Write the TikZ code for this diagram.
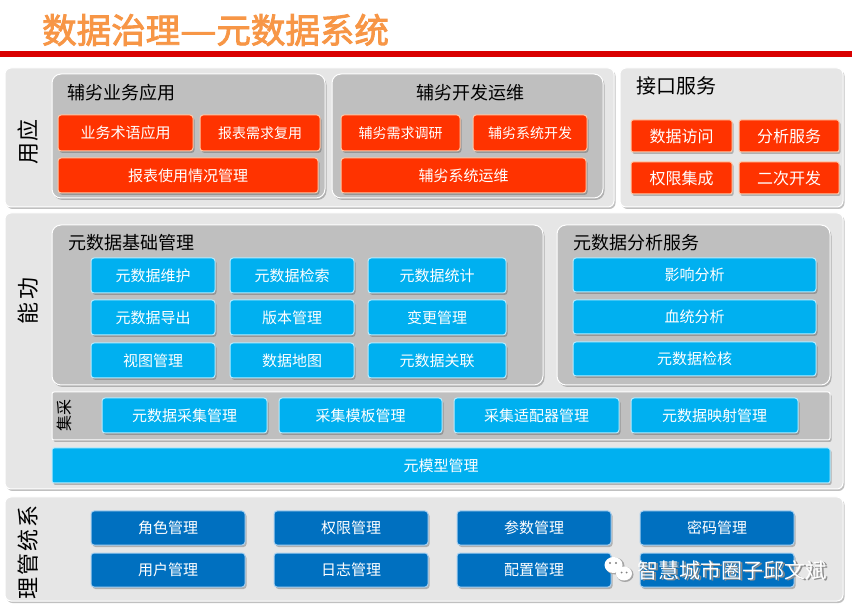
\documentclass[tikz,border=0pt]{standalone}
\usepackage{fontspec}
\newfontfamily\cjk{Noto Sans CJK SC}
\newfontfamily\cjktitle[FakeBold=2.5]{Noto Sans CJK SC}
\usetikzlibrary{shadows}
\definecolor{titleorange}{HTML}{F79646}
\definecolor{lineRed}{HTML}{D90000}
\definecolor{secgray}{HTML}{E6E6E6}
\definecolor{innergray}{HTML}{BFBFBF}
\definecolor{myred}{HTML}{FF3300}
\definecolor{rededge}{HTML}{FFC9A8}
\definecolor{lblue}{HTML}{00B0F0}
\definecolor{lblueedge}{HTML}{B8ECFF}
\definecolor{dblue}{HTML}{0070C0}
\definecolor{dblueedge}{HTML}{A8D0F0}
\tikzset{
  shad/.style={drop shadow={opacity=0.35, shadow xshift=1.5pt, shadow yshift=-2pt, fill=black!70}},
  sect/.style={fill=secgray, draw=white, line width=1pt, rounded corners=6pt, inner sep=0pt, shad},
  innerbox/.style={fill=innergray, draw=white, line width=1pt, rounded corners=9pt, inner sep=0pt, shad},
  redbox/.style={fill=myred, draw=rededge, line width=1pt, rounded corners=3pt, inner sep=0pt, text=white,
     font=\cjk\fontsize{15}{15}\selectfont, shad},
  bluebox/.style={fill=lblue, draw=lblueedge, line width=1pt, rounded corners=3pt, inner sep=0pt, text=white,
     font=\cjk\fontsize{15}{15}\selectfont, shad},
  dbox/.style={fill=dblue, draw=dblueedge, line width=1pt, rounded corners=3pt, inner sep=0pt, text=white,
     font=\cjk\fontsize{15}{15}\selectfont, shad, minimum width=154, minimum height=34},
  grouplabel/.style={font=\cjk\fontsize{18}{18}\selectfont, text=black, inner sep=0pt},
  sidelabel/.style={font=\cjk\fontsize{22}{22}\selectfont, text=black, inner sep=0pt, rotate=90},
}
\begin{document}
\begin{tikzpicture}[x=1pt,y=-1pt]
\useasboundingbox (0,0) rectangle (852,609);
\fill[white] (0,0) rectangle (852,609);
% title
\node[anchor=west, inner sep=0pt, text=titleorange, font=\cjktitle\fontsize{34.5}{34.5}\selectfont] (title) at (42,30)
  {数据治理\makebox[1.05em]{\resizebox{1.05em}{\height}{—}}元数据系统};
\fill[lineRed] (0,51.5) rectangle (852,57);

% ---------- application ----------
\node[sect, minimum width=609, minimum height=139] (app) at (309.5,137.5) {};
\node[sect, minimum width=223, minimum height=139] (iface) at (731.5,137.5) {};
\node[sidelabel] (applbl) at (28,142) {用\kern2pt 应};
\node[innerbox, minimum width=273, minimum height=124] (biz) at (188.5,136) {};
\node[innerbox, minimum width=271, minimum height=124] (dev) at (467.5,136) {};
\node[grouplabel, anchor=west] (bizlbl) at (67,93) {辅劣业务应用};
\node[grouplabel] (devlbl) at (470,93) {辅劣开发运维};
\node[grouplabel, anchor=west, font=\cjk\fontsize{20}{20}\selectfont] (ifacelbl) at (636,86) {接口服务};

\node[redbox, minimum width=135, minimum height=36] (r1) at (125.5,133) {业务术语应用};
\node[redbox, minimum width=120, minimum height=36, font=\cjk\fontsize{14}{14}\selectfont] (r2) at (260,133) {报表需求复用};
\node[redbox, minimum width=260, minimum height=35] (r3) at (188,175.5) {报表使用情况管理};
\node[redbox, minimum width=119, minimum height=36, font=\cjk\fontsize{14}{14}\selectfont] (r4) at (400.5,133) {辅劣需求调研};
\node[redbox, minimum width=114, minimum height=36, font=\cjk\fontsize{14}{14}\selectfont] (r5) at (530,133) {辅劣系统开发};
\node[redbox, minimum width=245, minimum height=35] (r6) at (463.5,175.5) {辅劣系统运维};

\node[redbox, minimum width=101, minimum height=32, rounded corners=2pt, font=\cjk\fontsize{16}{16}\selectfont] (i1) at (681.5,136) {数据访问};
\node[redbox, minimum width=100, minimum height=32, rounded corners=2pt, font=\cjk\fontsize{16}{16}\selectfont] (i2) at (789,136) {分析服务};
\node[redbox, minimum width=101, minimum height=32, rounded corners=2pt, font=\cjk\fontsize{16}{16}\selectfont] (i3) at (681.5,178) {权限集成};
\node[redbox, minimum width=100, minimum height=32, rounded corners=2pt, font=\cjk\fontsize{16}{16}\selectfont] (i4) at (789,178) {二次开发};

% ---------- function ----------
\node[sect, minimum width=838, minimum height=276] (func) at (424,351) {};
\node[sidelabel] (funclbl) at (28,301) {能\kern3pt 功};
\node[innerbox, minimum width=491, minimum height=160] (basic) at (297.5,305) {};
\node[innerbox, minimum width=273, minimum height=160] (anal) at (693.5,305) {};
\node[grouplabel, anchor=west] (basiclbl) at (68,243) {元数据基础管理};
\node[grouplabel, anchor=west] (anallbl) at (573,243) {元数据分析服务};

\node[bluebox, minimum width=124, minimum height=35] (b11) at (153,275.5) {元数据维护};
\node[bluebox, minimum width=124, minimum height=35] (b12) at (292,275.5) {元数据检索};
\node[bluebox, minimum width=138, minimum height=35] (b13) at (437,275.5) {元数据统计};
\node[bluebox, minimum width=124, minimum height=35] (b21) at (153,317.5) {元数据导出};
\node[bluebox, minimum width=124, minimum height=35] (b22) at (292,317.5) {版本管理};
\node[bluebox, minimum width=138, minimum height=35] (b23) at (437,317.5) {变更管理};
\node[bluebox, minimum width=124, minimum height=35] (b31) at (153,360.5) {视图管理};
\node[bluebox, minimum width=124, minimum height=35] (b32) at (292,360.5) {数据地图};
\node[bluebox, minimum width=138, minimum height=35] (b33) at (437,360.5) {元数据关联};

\node[bluebox, minimum width=243, minimum height=34] (a1) at (694.5,275) {影响分析};
\node[bluebox, minimum width=243, minimum height=34] (a2) at (694.5,317) {血统分析};
\node[bluebox, minimum width=243, minimum height=34] (a3) at (694.5,359) {元数据检核};

\node[fill=innergray, draw=white, line width=1pt, rounded corners=2pt, inner sep=0pt, shad,
      minimum width=778, minimum height=48] (coll) at (441,416) {};
\node[sidelabel, font=\cjk\fontsize{16}{16}\selectfont] (colllbl) at (64,416) {集采};
\node[bluebox, minimum width=165, minimum height=35] (c1) at (184.5,415.5) {元数据采集管理};
\node[bluebox, minimum width=163, minimum height=35] (c2) at (360.5,415.5) {采集模板管理};
\node[bluebox, minimum width=165, minimum height=35] (c3) at (536.5,415.5) {采集适配器管理};
\node[bluebox, minimum width=167, minimum height=35] (c4) at (714.5,415.5) {元数据映射管理};
\node[bluebox, minimum width=778, minimum height=35, rounded corners=2pt] (meta) at (441,465.5) {元模型管理};

% ---------- system ----------
\node[sect, minimum width=838, minimum height=104] (sys) at (424,549) {};
\node[sidelabel] (syslbl) at (28,552) {理\kern2pt 管\kern2pt 统\kern2pt 系};
\node[dbox] (s11) at (168,528) {角色管理};
\node[dbox] (s12) at (351,528) {权限管理};
\node[dbox] (s13) at (534,528) {参数管理};
\node[dbox] (s14) at (717,528) {密码管理};
\node[dbox] (s21) at (168,570) {用户管理};
\node[dbox] (s22) at (351,570) {日志管理};
\node[dbox] (s23) at (534,570) {配置管理};
\node[dbox] (s24) at (717,570) {};

% watermark
\fill[black!35] (615,566) ellipse (9.5 and 8.5);
\fill[white] (613.5,565) ellipse (9 and 8);
\fill[black!35] (625,574.5) ellipse (8.5 and 7.5);
\fill[white] (624,573.5) ellipse (8 and 7);
\fill[black!50] (610,563) circle (1.2) (616,563) circle (1.2) (621.5,572.5) circle (1) (626.5,572.5) circle (1);
\node[anchor=west, inner sep=0pt, text=black!45, font=\cjk\fontsize{21}{21}\selectfont] (wmshadow) at (638.8,571.2) {智慧城市圈子邱文斌};
\node[anchor=west, inner sep=0pt, text=white, font=\cjk\fontsize{21}{21}\selectfont] (wm) at (637.5,570) {智慧城市圈子邱文斌};
\end{tikzpicture}
\end{document}
